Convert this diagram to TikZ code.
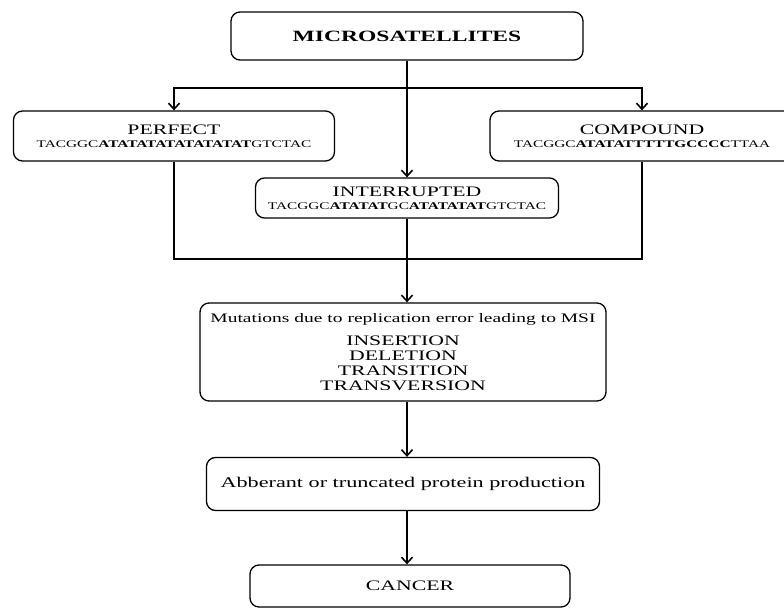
\documentclass[tikz,border=0pt]{standalone}
\usepackage{fontspec}
\setmainfont{Liberation Serif}[FakeStretch=1.5]
\usetikzlibrary{arrows.meta}
\newcommand{\capsize}{\fontsize{14.5}{15}\selectfont}
\newcommand{\seqsize}{\fontsize{10.2}{12}\selectfont}
\begin{document}
\begin{tikzpicture}[x=1pt,y=-1pt,
  box/.style={draw,line width=1.3pt,rounded corners=9pt,inner sep=0pt,align=center},
  line/.style={line width=1.3pt},
  arr/.style={line width=1.3pt,-{Straight Barb[length=6pt,width=11pt,line width=1.6pt]}}]
\useasboundingbox (0,0) rectangle (784,609);
% boxes
\node[box,minimum width=352,minimum height=48,font=\bfseries\fontsize{15.7}{18}\selectfont] (micro) at (407,36) {MICROSATELLITES};
\node[box,minimum width=321,minimum height=50,font=\fontsize{10.2}{13}\selectfont] (perf) at (174,136) {{\capsize PERFECT}\\{\seqsize TACGGC\textbf{ATATATATATATATAT}GTCTAC}};
\node[box,minimum width=304,minimum height=50,font=\fontsize{10.2}{13}\selectfont] (comp) at (642,136) {{\capsize COMPOUND}\\{\seqsize TACGGC\textbf{ATATATTTTTGCCCC}TTAA}};
\node[box,minimum width=303,minimum height=40,font=\fontsize{10.2}{13}\selectfont] (inter) at (407,198) {{\capsize INTERRUPTED}\\{\seqsize TACGGC\textbf{ATATAT}GC\textbf{ATATATAT}GTCTAC}};
\node[box,minimum width=406,minimum height=98,font=\capsize] (mut) at (403,352) {{\fontsize{13}{15}\selectfont Mutations due to replication error leading to MSI}\\[8pt]
  INSERTION\\DELETION\\TRANSITION\\TRANSVERSION};
\node[box,minimum width=393,minimum height=53,font=\fontsize{14.8}{16}\selectfont] (abb) at (403,484) {Abberant or truncated protein production};
\node[box,minimum width=320,minimum height=42,font=\capsize] (canc) at (410,586) {CANCER};
% connectors
\coordinate (split) at (407,88);
\coordinate (join) at (407,259);
\draw[line] (micro.south) -- (split);
\draw[arr] (split) -| (perf.north);
\draw[arr] (split) -| (comp.north);
\draw[arr] (split) -- (inter.north);
\draw[line] (perf.south) |- (join) -| (comp.south);
\draw[arr] (inter.south) -- (inter.south |- mut.north);
\draw[arr] (inter.south |- mut.south) -- (inter.south |- abb.north);
\draw[arr] (inter.south |- abb.south) -- (inter.south |- canc.north);
\end{tikzpicture}
\end{document}
